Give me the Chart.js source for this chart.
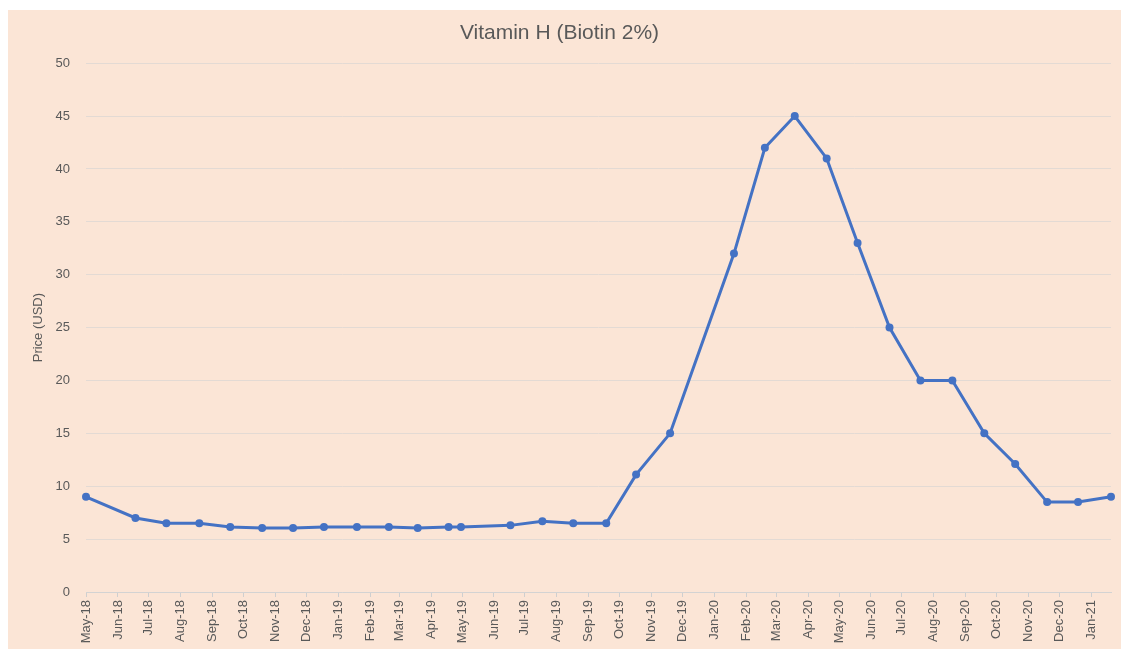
<!DOCTYPE html>
<html>
<head>
<meta charset="utf-8">
<script src="https://cdn.jsdelivr.net/npm/chart.js@4.4.0/dist/chart.umd.min.js"></script>
<style>
  body { margin: 0; background: #ffffff; }
  #box { position: absolute; left: 8px; top: 10px; width: 1113px; height: 639px; background: #FBE5D6; }
</style>
</head>
<body>
<div id="box"><canvas id="chart" width="1113" height="639"></canvas></div>
<script>
// price readings (date of reading, USD)
const dates = [
  '2018-05-01', '2018-06-18', '2018-07-18', '2018-08-19', '2018-09-18', '2018-10-19',
  '2018-11-18', '2018-12-18', '2019-01-19', '2019-02-19', '2019-03-19', '2019-04-18',
  '2019-04-30', '2019-06-17', '2019-07-18', '2019-08-17', '2019-09-18', '2019-10-17',
  '2019-11-19', '2020-01-20', '2020-02-19', '2020-03-19', '2020-04-19', '2020-05-19',
  '2020-06-19', '2020-07-19', '2020-08-19', '2020-09-19', '2020-10-19', '2020-11-19',
  '2020-12-19', '2021-01-20'
];
const prices = [
  9.0, 7.0, 6.5, 6.5, 6.15, 6.05,
  6.05, 6.15, 6.15, 6.15, 6.05, 6.15,
  6.15, 6.3, 6.7, 6.5, 6.5, 11.1,
  15.0, 32.0, 42.0, 45.0, 41.0, 33.0,
  25.0, 20.0, 20.0, 15.0, 12.1, 8.5,
  8.5, 9.0
];
const tickLabels = [
  'May-18', 'Jun-18', 'Jul-18', 'Aug-18', 'Sep-18', 'Oct-18', 'Nov-18', 'Dec-18',
  'Jan-19', 'Feb-19', 'Mar-19', 'Apr-19', 'May-19', 'Jun-19', 'Jul-19', 'Aug-19',
  'Sep-19', 'Oct-19', 'Nov-19', 'Dec-19', 'Jan-20', 'Feb-20', 'Mar-20', 'Apr-20',
  'May-20', 'Jun-20', 'Jul-20', 'Aug-20', 'Sep-20', 'Oct-20', 'Nov-20', 'Dec-20', 'Jan-21'
];
const monthNames = ['Jan', 'Feb', 'Mar', 'Apr', 'May', 'Jun', 'Jul', 'Aug', 'Sep', 'Oct', 'Nov', 'Dec'];

const START = Date.UTC(2018, 4, 1);
function dayNum(str) {
  const p = str.split('-').map(Number);
  return (Date.UTC(p[0], p[1] - 1, p[2]) - START) / 86400000;
}
function labelDay(lbl) {
  const m = monthNames.indexOf(lbl.slice(0, 3));
  const y = 2000 + Number(lbl.slice(4));
  return (Date.UTC(y, m, 1) - START) / 86400000;
}

const tickDays = tickLabels.map(labelDay);
const points = dates.map((d, i) => ({ x: dayNum(d), y: prices[i] }));

const textColor = '#595959';
const fontFamily = '"Liberation Sans", Arial, sans-serif';
Chart.defaults.font.family = fontFamily;

new Chart(document.getElementById('chart'), {
  type: 'line',
  data: {
    datasets: [{
      label: 'Price (USD)',
      data: points,
      borderColor: '#4472C4',
      backgroundColor: '#4472C4',
      borderWidth: 3,
      pointRadius: 4,
      pointHoverRadius: 4,
      pointBorderWidth: 0,
      tension: 0,
      clip: false
    }]
  },
  options: {
    responsive: false,
    animation: false,
    layout: { padding: { left: 0, right: 10, top: 0, bottom: 0 } },
    plugins: {
      legend: { display: false },
      tooltip: { enabled: false },
      title: {
        display: true,
        text: 'Vitamin H (Biotin 2%)',
        color: textColor,
        font: { size: 21, weight: 'normal' },
        padding: { top: 11, bottom: 17 }
      }
    },
    scales: {
      x: {
        type: 'linear',
        min: 0,
        max: dayNum(dates[dates.length - 1]),
        afterBuildTicks: s => { s.ticks = tickDays.map(v => ({ value: v })); },
        afterFit: s => { s.height = 57; },
        ticks: {
          autoSkip: false,
          minRotation: 90,
          maxRotation: 90,
          padding: 3,
          color: textColor,
          font: { size: 13 },
          callback: (v, i) => tickLabels[i]
        },
        grid: { drawOnChartArea: false, drawTicks: true, tickLength: 5, color: '#CFCFCF' },
        border: { display: true, color: '#D3D3D3' }
      },
      y: {
        min: 0,
        max: 50,
        afterFit: s => { s.width = 78; },
        ticks: { stepSize: 5, padding: 16, color: textColor, font: { size: 13 } },
        grid: { color: '#E3DAD4', drawTicks: false },
        border: { display: false },
        title: {
          display: true,
          text: 'Price (USD)',
          color: textColor,
          font: { size: 13 },
          padding: { top: 23, bottom: 0 }
        }
      }
    }
  }
});
</script>
</body>
</html>
